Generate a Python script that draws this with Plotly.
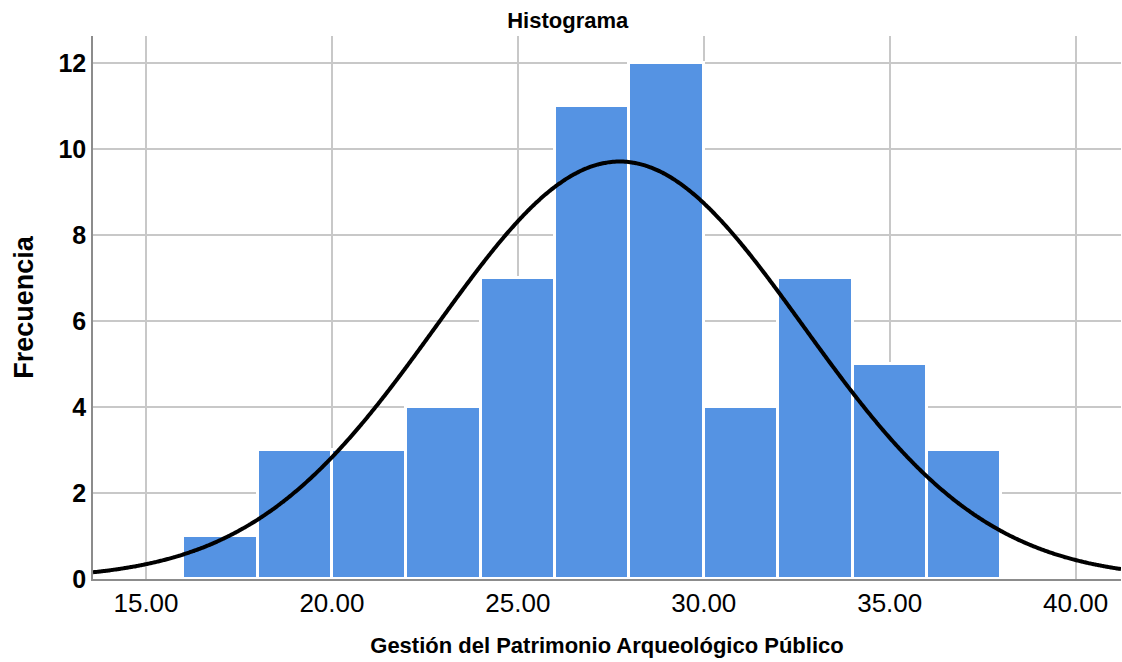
import numpy as np
import plotly.graph_objects as go

bin_starts = [16, 18, 20, 22, 24, 26, 28, 30, 32, 34, 36]
counts = [1, 3, 3, 4, 7, 11, 12, 4, 7, 5, 3]
bin_width = 2
mean_val = 27.74
std_val = 4.93
n_total = sum(counts)
x_tickvals = [15, 20, 25, 30, 35, 40]
x_ticktext = ["15.00", "20.00", "25.00", "30.00", "35.00", "40.00"]
y_tickvals = [0, 2, 4, 6, 8, 10, 12]

x_range = [13.575, 41.22]
y_range = [0, 12.63]

centers = [s + bin_width / 2 for s in bin_starts]
xc = np.linspace(x_range[0], x_range[1], 600)
yc = n_total * bin_width / (std_val * np.sqrt(2 * np.pi)) * np.exp(-0.5 * ((xc - mean_val) / std_val) ** 2)

fig = go.Figure()
fig.add_trace(go.Bar(x=centers, y=counts, width=bin_width,
                     marker=dict(color="#5593E3", line=dict(color="white", width=3)),
                     showlegend=False, hoverinfo="skip"))
fig.add_trace(go.Scatter(x=xc, y=yc, mode="lines", line=dict(color="black", width=4, shape="spline"),
                         showlegend=False, hoverinfo="skip"))

fig.update_layout(
    width=1122, height=662,
    margin=dict(l=93, r=1, t=36, b=83, autoexpand=False),
    paper_bgcolor="white", plot_bgcolor="white",
    font=dict(family="Liberation Sans, Arial", color="black"),
    title=dict(text="<b>Histograma</b>", x=0.506, xanchor="center", y=0.97, yanchor="middle",
               font=dict(size=22)),
    bargap=0,
)
fig.update_xaxes(range=x_range, tickvals=x_tickvals, ticktext=x_ticktext,
                 showgrid=True, gridcolor="#C8C8C8", gridwidth=1.5,
                 showline=True, linecolor="#8C8C8C", linewidth=1.5, ticks="",
                 tickfont=dict(size=26), zeroline=False, automargin=False,
                 title=dict(text="<b>Gestión del Patrimonio Arqueológico Público</b>",
                            font=dict(size=22), standoff=21))
fig.update_yaxes(range=y_range, tickvals=y_tickvals,
                 showgrid=True, gridcolor="#C8C8C8", gridwidth=1.5,
                 showline=True, linecolor="#8C8C8C", linewidth=1.5, ticks="",
                 tickfont=dict(size=25, weight="bold"), zeroline=False, ticklabelstandoff=0,
                 automargin=False,
                 title=dict(text="<b>Frecuencia</b>", font=dict(size=27), standoff=17))

fig.write_html("out.html", config={"displayModeBar": False},
               post_script="document.body.style.margin='0';document.body.style.overflow='hidden';")
